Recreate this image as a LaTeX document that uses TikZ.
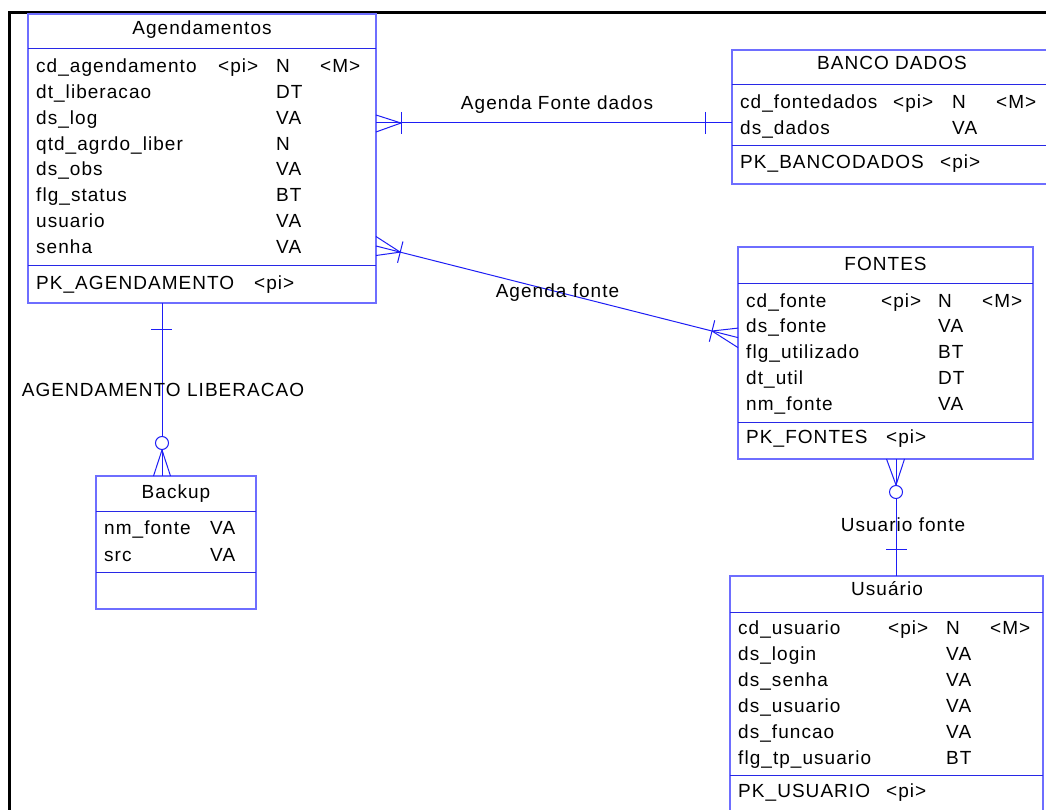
\documentclass[tikz,border=0pt]{standalone}
\usepackage{fontspec}
\setmainfont{Liberation Sans}[LetterSpace=5.5]
\usetikzlibrary{calc}
\definecolor{boxblue}{RGB}{110,110,255}
\definecolor{sepblue}{RGB}{40,40,230}
\definecolor{relblue}{RGB}{30,30,245}
\newcommand\erfont{\fontsize{19}{23}\selectfont}
\begin{document}
\begin{tikzpicture}[x=1pt,y=-1pt,
  ent/.style={draw=boxblue, line width=1.4pt, rectangle, inner sep=0pt, outer sep=0pt, anchor=north west},
  sepline/.style={draw=sepblue, line width=1pt},
  rel/.style={draw=relblue, line width=1pt},
  fld/.style={inner sep=0pt, anchor=base west, font=\erfont},
  ttl/.style={inner sep=0pt, anchor=base, font=\erfont},
  lbl/.style={inner sep=0pt, anchor=base, font=\erfont},
  opt/.style={circle, draw=relblue, line width=1pt, minimum size=13pt, inner sep=0pt, fill=white}]
\useasboundingbox (0,0) rectangle (1046,810);
\clip (0,0) rectangle (1046,810);
\fill[white] (0,0) rectangle (1046,810);

% outer frame
\draw[line width=2.5pt, black] (9.3,12.7) rectangle (1200,900);

% entity boxes
\node[ent, minimum width=348pt, minimum height=289pt] (ag) at (28,14) {};
\node[ent, minimum width=320pt, minimum height=134pt] (bd) at (732,50) {};
\node[ent, minimum width=295pt, minimum height=212pt] (fo) at (738,247) {};
\node[ent, minimum width=160pt, minimum height=133pt] (bk) at (96,476) {};
\node[ent, minimum width=313pt, minimum height=254pt] (us) at (730,576) {};

% compartment separators
\draw[sepline] ($(ag.north west)+(0,35)$) -- ($(ag.north east)+(0,35)$);
\draw[sepline] ($(ag.north west)+(0,252)$) -- ($(ag.north east)+(0,252)$);
\draw[sepline] ($(bd.north west)+(0,35)$) -- ($(bd.north east)+(0,35)$);
\draw[sepline] ($(bd.north west)+(0,96)$) -- ($(bd.north east)+(0,96)$);
\draw[sepline] ($(fo.north west)+(0,36)$) -- ($(fo.north east)+(0,36)$);
\draw[sepline] ($(fo.north west)+(0,175)$) -- ($(fo.north east)+(0,175)$);
\draw[sepline] ($(bk.north west)+(0,35)$) -- ($(bk.north east)+(0,35)$);
\draw[sepline] ($(bk.north west)+(0,96)$) -- ($(bk.north east)+(0,96)$);
\draw[sepline] ($(us.north west)+(0,36)$) -- ($(us.north east)+(0,36)$);
\draw[sepline] ($(us.north west)+(0,199)$) -- ($(us.north east)+(0,199)$);

% Agendamentos -- BANCO DADOS
\coordinate (r1a) at ($(ag.north east)+(0,109)$);
\coordinate (r1b) at ($(bd.north west)+(0,73)$);
\coordinate (r1f) at ($(r1a)+(25,0)$);
\coordinate (r1t) at ($(r1b)+(-27,0)$);
\draw[rel] (r1a) -- (r1b);
\draw[rel] (r1f) -- ($(r1a)+(0,-8)$);
\draw[rel] (r1f) -- ($(r1a)+(0,9)$);
\draw[rel] ($(r1f)+(0,-11)$) -- ($(r1f)+(0,11)$);
\draw[rel] ($(r1t)+(0,-11)$) -- ($(r1t)+(0,11)$);

% Agendamentos -- FONTES
\coordinate (r2a) at ($(ag.north east)+(0,232)$);
\coordinate (r2b) at ($(fo.north west)+(0,90.6)$);
\coordinate (r2fa) at ($(r2a)!25pt!(r2b)$);
\coordinate (r2fb) at ($(r2b)!26.8pt!(r2a)$);
\draw[rel] (r2a) -- (r2b);
\draw[rel] (r2fa) -- ($(r2a)+(0,-9.5)$);
\draw[rel] (r2fa) -- ($(r2a)+(0,9.5)$);
\draw[rel] ($(r2fa)!11pt!90:(r2b)$) -- ($(r2fa)!11pt!-90:(r2b)$);
\draw[rel] (r2fb) -- ($(r2b)+(0,-9.5)$);
\draw[rel] (r2fb) -- ($(r2b)+(0,10)$);
\draw[rel] ($(r2fb)!11pt!90:(r2a)$) -- ($(r2fb)!11pt!-90:(r2a)$);

% Agendamentos -- Backup
\coordinate (r3a) at ($(ag.south west)+(134,0)$);
\coordinate (r3b) at ($(bk.north west)+(66,0)$);
\node[opt] (c3) at ($(r3a)+(0,140)$) {};
\draw[rel] (r3a) -- (c3.north);
\draw[rel] (c3.south) -- (r3b);
\draw[rel] (c3.south) -- ($(r3b)+(-8.5,0)$);
\draw[rel] (c3.south) -- ($(r3b)+(8.5,0)$);
\draw[rel] ($(r3a)+(-11,26)$) -- ($(r3a)+(10,26)$);

% FONTES -- Usuario
\coordinate (r4a) at ($(fo.south west)+(158,0)$);
\coordinate (r4b) at ($(us.north west)+(166,0)$);
\coordinate (r4f) at ($(r4a)+(0,26)$);
\node[opt] (c4) at ($(r4a)+(0,33)$) {};
\draw[rel] (r4a) -- (r4f);
\draw[rel] (r4f) -- ($(r4a)+(-9.5,0)$);
\draw[rel] (r4f) -- ($(r4a)+(8.5,0)$);
\draw[rel] (c4.south) -- (r4b);
\draw[rel] ($(r4b)+(-10,-27)$) -- ($(r4b)+(11,-27)$);

% relationship labels
\node[lbl] (l1) at (557,110) {Agenda Fonte dados};
\node[lbl] (l2) at (557.5,298) {Agenda fonte};
\node[lbl] (l3) at (163,396) {AGENDAMENTO LIBERACAO};
\node[lbl] (l4) at (903,531) {Usuario fonte};

% Agendamentos
\node[ttl] (ag-title) at (202,34.7) {Agendamentos};
\foreach \n/\t [count=\i from 0] in {cd\_agendamento/N, dt\_liberacao/DT, ds\_log/VA, qtd\_agrdo\_liber/N, ds\_obs/VA, flg\_status/BT, usuario/VA, senha/VA} {
  \node[fld] (ag-n\i) at (36,72.5+25.86*\i) {\n};
  \node[fld] (ag-t\i) at (276,72.5+25.86*\i) {\t};
}
\node[fld] (ag-pi) at (218,72.5) {<pi>};
\node[fld] (ag-m) at (320,72.5) {<M>};
\node[fld] (ag-pk) at (36,289) {PK\_AGENDAMENTO};
\node[fld] (ag-pkpi) at (254,289) {<pi>};

% BANCO DADOS
\node[ttl] (bd-title) at (892,70) {BANCO DADOS};
\foreach \n/\t [count=\i from 0] in {cd\_fontedados/N, ds\_dados/VA} {
  \node[fld] (bd-n\i) at (740,109+26*\i) {\n};
  \node[fld] (bd-t\i) at (952,109+26*\i) {\t};
}
\node[fld] (bd-pi) at (893,109) {<pi>};
\node[fld] (bd-m) at (996,109) {<M>};
\node[fld] (bd-pk) at (740,169) {PK\_BANCODADOS};
\node[fld] (bd-pkpi) at (940,169) {<pi>};

% FONTES
\node[ttl] (fo-title) at (885.5,270) {FONTES};
\foreach \n/\t [count=\i from 0] in {cd\_fonte/N, ds\_fonte/VA, flg\_utilizado/BT, dt\_util/DT, nm\_fonte/VA} {
  \node[fld] (fo-n\i) at (746,307+25.75*\i) {\n};
  \node[fld] (fo-t\i) at (938,307+25.75*\i) {\t};
}
\node[fld] (fo-pi) at (881,307) {<pi>};
\node[fld] (fo-m) at (982,307) {<M>};
\node[fld] (fo-pk) at (746,443) {PK\_FONTES};
\node[fld] (fo-pkpi) at (886,443) {<pi>};

% Backup
\node[ttl] (bk-title) at (176,498) {Backup};
\foreach \n/\t [count=\i from 0] in {nm\_fonte/VA, src/VA} {
  \node[fld] (bk-n\i) at (104,534+27*\i) {\n};
  \node[fld] (bk-t\i) at (210,534+27*\i) {\t};
}

% Usuario
\node[ttl] (us-title) at (887,595) {Usuário};
\foreach \n/\t [count=\i from 0] in {cd\_usuario/N, ds\_login/VA, ds\_senha/VA, ds\_usuario/VA, ds\_funcao/VA, flg\_tp\_usuario/BT} {
  \node[fld] (us-n\i) at (738,634+26*\i) {\n};
  \node[fld] (us-t\i) at (946,634+26*\i) {\t};
}
\node[fld] (us-pi) at (888,634) {<pi>};
\node[fld] (us-m) at (990,634) {<M>};
\node[fld] (us-pk) at (738,797) {PK\_USUARIO};
\node[fld] (us-pkpi) at (886,797) {<pi>};
\end{tikzpicture}
\end{document}
